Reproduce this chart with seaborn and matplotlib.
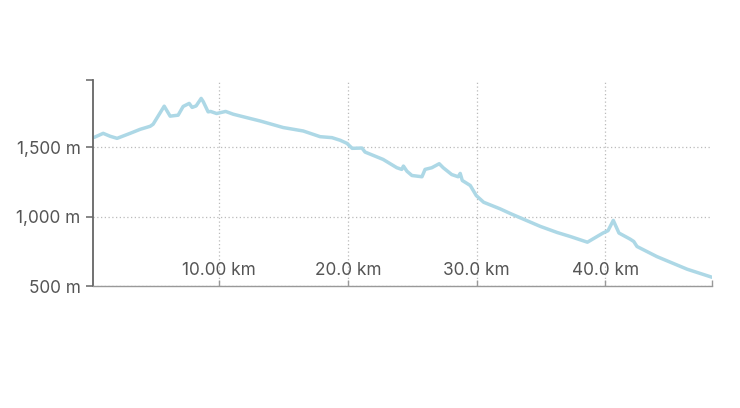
"""
Elevation profile - distance vs altitude
"""

import numpy as np
import pandas as pd
import matplotlib.pyplot as plt
import seaborn as sns
from matplotlib.ticker import FixedLocator

# Profile (km, m)
distance_km = [0.29, 0.99, 1.53, 2.07, 3.08, 3.86, 4.64, 4.87, 5.73, 6.19,
               6.81, 7.20, 7.67, 7.90, 8.21, 8.60, 8.76, 9.14, 9.33, 9.80,
               10.50, 11.09, 12.41, 13.19, 14.97, 16.53, 17.84, 18.76, 19.40, 19.92,
               20.33, 21.09, 21.33, 22.73, 23.80, 24.18, 24.31, 24.58, 24.97, 25.75,
               25.99, 26.51, 27.09, 27.40, 28.06, 28.56, 28.72, 28.88, 29.50, 29.97,
               30.54, 31.32, 31.83, 32.63, 34.94, 36.25, 37.27, 38.60, 39.81, 40.20,
               40.61, 41.05, 41.92, 42.20, 42.45, 44.00, 46.35, 48.28]
elevation_m = [1572, 1601, 1580, 1565, 1601, 1630, 1652, 1667, 1797, 1725,
               1732, 1795, 1817, 1788, 1799, 1853, 1830, 1756, 1759, 1744,
               1759, 1739, 1708, 1690, 1643, 1618, 1577, 1570, 1551, 1529,
               1493, 1495, 1466, 1413, 1353, 1341, 1365, 1328, 1297, 1288,
               1341, 1353, 1382, 1353, 1304, 1288, 1312, 1261, 1225, 1152,
               1104, 1075, 1056, 1022, 930, 886, 857, 816, 882, 899,
               973, 882, 838, 821, 785, 712, 621, 563]

x_ticks = [10, 20, 30, 40]
x_labels = ["10.00 km", "20.0 km", "30.0 km", "40.0 km"]
y_ticks = [500, 1000, 1500]
y_labels = ["500 m", "1,000 m", "1,500 m"]

df = pd.DataFrame({"km": distance_km, "elev": elevation_m})

sns.set_style("white")
plt.rcParams['font.family'] = ['Inter', 'DejaVu Sans']

fig = plt.figure(figsize=(7.4, 4.08), dpi=100)
ax = fig.add_axes([0.1257, 0.299, 0.8360, 0.505])

sns.lineplot(data=df, x="km", y="elev", color="#add8e6", linewidth=2.5, ax=ax)

ax.set_xlim(0.2, 48.25)
ax.set_ylim(500, 1986)

ax.set_xticks(x_ticks)
ax.set_xticklabels(x_labels)
ax.set_yticks(y_ticks)
ax.set_yticklabels(y_labels)
# end-of-axis marks
ax.xaxis.set_minor_locator(FixedLocator([48.25]))
ax.yaxis.set_minor_locator(FixedLocator([1986]))

ax.grid(True, which="major", color="#bbbbbb", linestyle=(0, (1, 2)), linewidth=0.9)

ax.set_xlabel("")
ax.set_ylabel("")

for side in ["top", "right"]:
    ax.spines[side].set_visible(False)
ax.spines["left"].set_color("#666666")
ax.spines["left"].set_linewidth(1.3)
ax.spines["bottom"].set_color("#999999")
ax.spines["bottom"].set_linewidth(1.0)

ax.tick_params(axis="y", which="both", direction="out", length=5, width=1.1,
               color="#666666", labelsize=12.4, labelcolor="#555555", pad=4, left=True)
ax.tick_params(axis="x", which="both", direction="in", length=4, width=1,
               color="#999999", labelsize=12.4, labelcolor="#555555", pad=-17, bottom=True)

plt.savefig("out.png", dpi=100)
plt.close()
